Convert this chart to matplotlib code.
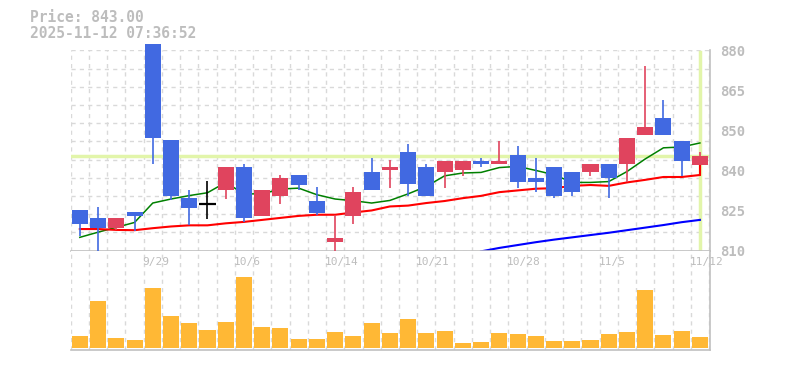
import numpy as np
import matplotlib
matplotlib.use("Agg")
import matplotlib.pyplot as plt
import matplotlib.transforms as mtransforms

# ---- data ----
dates = ['9/22', '9/24', '9/25', '9/26', '9/29', '9/30', '10/1', '10/2', '10/3',
         '10/6', '10/7', '10/8', '10/9', '10/10', '10/14', '10/15', '10/16', '10/17',
         '10/20', '10/21', '10/22', '10/23', '10/24', '10/27', '10/28', '10/29',
         '10/30', '10/31', '11/4', '11/5', '11/6', '11/7', '11/10', '11/11', '11/12']
labeled_dates = ['9/29', '10/6', '10/14', '10/21', '10/28', '11/5', '11/12']

opens = [824.2, 821.4, 818.0, 823.5, 882.2, 848.5, 828.5, 826.2, 831.0, 839.3,
         822.2, 829.2, 836.5, 827.4, 813.0, 822.2, 837.5, 838.0, 844.6, 839.3,
         837.3, 838.0, 841.4, 840.1, 843.5, 835.4, 839.3, 837.5, 837.3, 840.4,
         840.1, 850.3, 856.5, 848.4, 840.0]
highs = [824.2, 825.3, 821.4, 823.5, 882.2, 848.5, 831.2, 834.4, 839.3, 840.2,
         831.2, 836.5, 836.5, 832.3, 822.5, 832.3, 842.5, 841.5, 847.4, 840.4,
         841.4, 841.4, 842.5, 848.4, 846.4, 842.5, 839.3, 837.5, 840.4, 840.4,
         849.5, 874.4, 862.5, 848.4, 844.6]
lows = [815.1, 810.0, 817.2, 816.8, 840.1, 827.7, 819.0, 821.1, 828.1, 820.0,
        822.2, 826.1, 831.0, 822.5, 810.0, 819.1, 831.0, 832.0, 829.2, 829.2,
        832.0, 836.2, 839.1, 840.1, 832.0, 830.3, 828.2, 829.2, 836.2, 828.2,
        834.1, 850.3, 850.3, 836.2, 840.0]
closes = [819.1, 818.0, 821.4, 822.2, 849.2, 829.2, 825.0, 826.2, 839.3, 821.2,
          831.2, 835.5, 833.0, 823.2, 814.4, 830.5, 831.0, 839.3, 833.1, 829.2,
          841.4, 841.4, 840.1, 841.4, 834.1, 834.1, 829.2, 830.3, 840.4, 835.2,
          849.5, 853.3, 850.3, 841.2, 843.0]

ma_short = [814.6, 816.4, 818.1, 819.8, 826.6, 828.0, 829.2, 830.2, 833.8, 829.8,
            829.8, 831.5, 831.8, 829.5, 828.0, 827.4, 826.6, 827.5, 829.8, 832.4,
            836.1, 837.1, 837.3, 839.0, 839.4, 838.0, 836.5, 833.8, 833.8, 834.1,
            837.6, 842.0, 845.9, 846.2, 847.6]
ma_mid = [817.5, 817.5, 817.2, 817.1, 817.8, 818.4, 818.8, 818.8, 819.5, 820.0,
          820.7, 821.4, 822.1, 822.5, 822.5, 823.3, 824.0, 825.4, 825.7, 826.6,
          827.3, 828.3, 829.1, 830.4, 831.0, 831.6, 831.8, 832.6, 832.9, 832.6,
          833.8, 834.7, 835.7, 835.7, 836.4]
ma_mid_live = 840.3
ma_long = [None] * 22 + [809.7, 810.9, 811.9, 812.9, 813.8, 814.6, 815.4, 816.2,
                         817.1, 818.0, 818.9, 819.9, 820.7]

volumes = [18, 71, 15, 12, 90, 48, 38, 27, 39, 107, 32, 30, 14, 14, 24, 18, 38, 23,
           44, 23, 26, 8, 9, 23, 21, 18, 11, 11, 12, 21, 24, 87, 20, 26, 17]

last_price = 843.00
timestamp = '2025-11-12 07:36:52'
price_ticks = [810, 824, 838, 852, 866, 880]
price_tick_labels = ['810', '825', '840', '850', '865', '880']

# ---- style ----
UP = '#e0445e'
DOWN = '#4169e1'
TXT = '#bdbdbd'
GRID = '#d9d9d9'
SPINE = '#c0c0c0'
NOW = '#e2f5aa'
MONO = 'DejaVu Sans Mono'

W, H = 785, 370
fig = plt.figure(figsize=(W / 100, H / 100), dpi=100)


def frame(left, top, right, bottom):
    return [left / W, (H - bottom) / H, (right - left) / W, (bottom - top) / H]


ax = fig.add_axes(frame(70.7, 50.3, 710.3, 250.5))
axv = fig.add_axes(frame(70.7, 250.5, 710.3, 350.0), sharex=ax)

x = np.arange(len(dates))
o = np.array(opens)
c = np.array(closes)
colors = [UP if cc > oo else (DOWN if cc < oo else 'black') for oo, cc in zip(o, c)]

for a in (ax, axv):
    a.set_xlim(-0.5, 34.57)
    a.set_xticks(np.arange(-0.5, len(dates), 1.0), minor=True)
    a.set_xticks([])
    a.grid(True, which='minor', axis='x', color=GRID, lw=1, ls=(0, (3, 3)))
    a.tick_params(which='both', length=0, labelbottom=False, labelleft=False)
    for s in ('left', 'top'):
        a.spines[s].set_visible(False)
    for s in ('right', 'bottom'):
        a.spines[s].set_color(SPINE)
        a.spines[s].set_linewidth(1.2)
    a.set_axisbelow(True)

ax.set_ylim(810, 880)
ax.set_yticks([])
ax.set_yticks(np.linspace(810, 880, 12), minor=True)
ax.grid(True, which='minor', axis='y', color=GRID, lw=1, ls=(0, (3, 3)))

# current price / current day markers
ax.axhline(last_price, color=NOW, lw=2.5, zorder=1)
ax.axvline(x[-1], ymin=0.007, ymax=0.993, color=NOW, lw=2.5, zorder=1)

# moving averages
ax.plot(x, ma_short, color='#008000', lw=1.1, zorder=2)
ax.plot(x, ma_mid, color='#ff0000', lw=1.5, zorder=2)
ax.vlines(x[-1], ma_mid[-1], ma_mid_live, color='#ff0000', lw=1.5, zorder=2)
ax.plot(x, np.array(ma_long, dtype=float), color='#0000ff', lw=1.5, zorder=2)

# candles
ax.vlines(x, lows, highs, colors=colors, lw=1.2, zorder=3, clip_on=False)
body_lo = np.minimum(o, c)
body_h = np.abs(c - o)
ax.bar(x, body_h, bottom=body_lo, width=0.88, color=colors, zorder=4, clip_on=False)
for xi, oo, cc in zip(x, o, c):
    if oo == cc:
        ax.hlines(oo, xi - 0.44, xi + 0.44, color='black', lw=1.6, zorder=4)

# volume
axv.bar(x, volumes, width=0.88, color='#ffb835', zorder=2)
axv.set_ylim(-3, 146)
axv.set_yticks([])

# price labels on the right
ytrans = mtransforms.offset_copy(ax.get_yaxis_transform(), fig=fig, x=10, y=-2, units='dots')
for t, lab in zip(price_ticks, price_tick_labels):
    ax.text(1, t, lab, transform=ytrans, ha='left', va='center', fontweight='bold',
            fontsize=10, color=TXT, family=MONO, clip_on=False)

# date labels
xtrans = mtransforms.offset_copy(axv.get_xaxis_transform(), fig=fig, x=-10.5, y=-11.2, units='dots')
for lab in labeled_dates:
    axv.text(dates.index(lab), 1, lab, transform=xtrans, ha='left', va='center',
             fontsize=8, color=TXT, family=MONO)

fig.text(30 / W, (H - 18) / H, f'Price: {last_price:.2f}', ha='left', va='center',
         fontsize=10.5, color=TXT, family=MONO, fontweight='bold')
fig.text(30 / W, (H - 33) / H, timestamp, ha='left', va='center',
         fontsize=10.5, color=TXT, family=MONO, fontweight='bold')

fig.savefig('out.png', dpi=100)
